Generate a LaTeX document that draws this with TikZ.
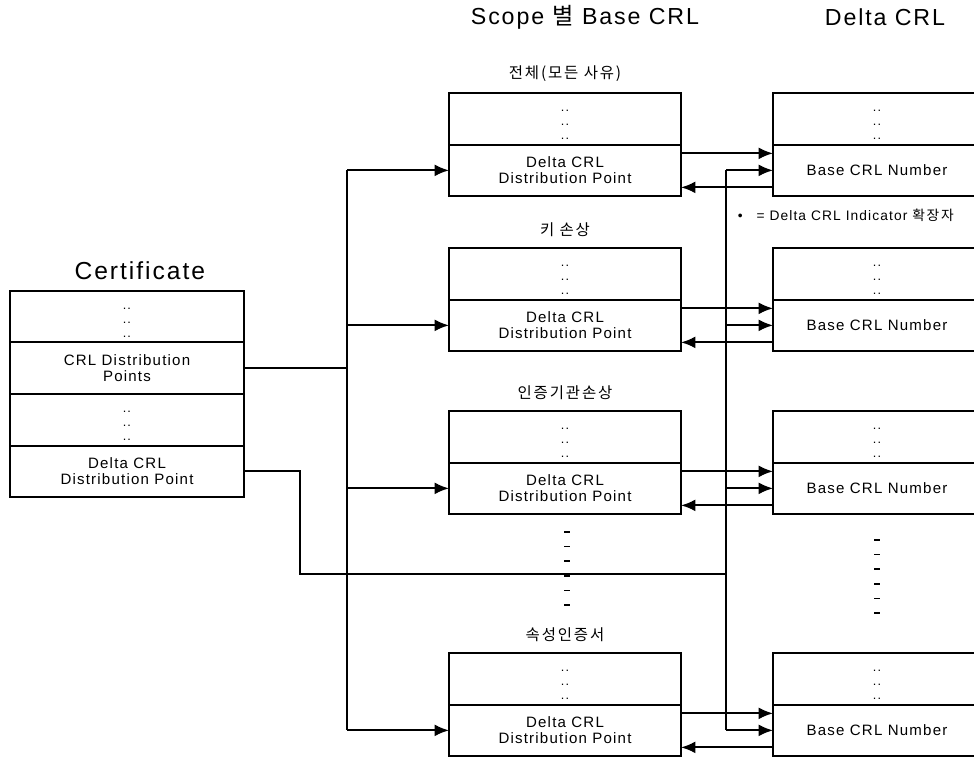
\documentclass[tikz,border=0pt]{standalone}
\usepackage{fontspec}
\setmainfont[LetterSpace=8]{Liberation Sans}
\newfontfamily\kr[LetterSpace=12]{Noto Sans CJK KR}
\usetikzlibrary{arrows.meta}
\usetikzlibrary{positioning}
\newcommand\fieldfont{\fontsize{10.7}{11.5}\selectfont}
\newcommand\dotfont{\fontsize{9}{9.96}\selectfont}
\tikzset{
    field/.style = {draw,line width=1.4pt,inner sep=0,outer sep=0,minimum height=1.29cm,align=center,font=\fieldfont},
    dotfield/.style = {label={[font=\dotfont,align=center,yshift=-0.15cm]center:..\\..\\..}},
    certfield/.style = {field,minimum width=5.85cm},
    basefield/.style = {field,minimum width=5.8cm},
    deltafield/.style = {field,minimum width=5.2cm},
    header/.style = {font=\fontsize{16.5}{18}\selectfont},
    reason/.style = {font=\kr\fontsize{11}{13}\selectfont},
    link/.style = {line width=1.4pt},
    feed/.style = {link,-{Latex[length=0.36cm,width=0.3cm]}}
}
\begin{document}
\begin{tikzpicture}[x=0.025cm,y=-0.025cm]
    \path[use as bounding box,clip] (0,0) rectangle (974,758);
    % Headers
    \node[header] (scopehead) at (585,17.5) {Scope {\kr 별} Base CRL};
    \node[header] (deltahead) at (885,17.5) {Delta CRL};
    % Certificate
    \node[certfield,dotfield] (c1) at (127,316.5) {};
    \node[certfield,below=0 of c1] (c2) {CRL Distribution\\Points};
    \node[certfield,dotfield,below=0 of c2] (c3) {};
    \node[certfield,below=0 of c3] (c4) {Delta CRL\\Distribution Point};
    \node[font=\fontsize{17.5}{20}\selectfont,above=0.15cm of c1,xshift=0.32cm] (certname) {Certificate};
    % Base CRLs and Delta CRLs
    \foreach \i/\y/\why in {1/118.75/전체(모든 사유),2/273.75/키 손상,3/436.75/인증기관손상,4/678.75/속성인증서} {
        \node[basefield,dotfield] (stop\i) at (565,\y) {};
        \node[basefield,below=0 of stop\i] (sdp\i) {Delta CRL\\Distribution Point};
        \node[reason,above=0.15cm of stop\i] (sname\i) {\why};
        \node[deltafield,dotfield] (dtop\i) at (877,\y) {};
        \node[deltafield,below=0 of dtop\i] (dnum\i) {Base CRL Number};
    }
    \node[anchor=west,font=\fontsize{9.8}{11}\selectfont] (note) at (733,215) {•\quad= Delta CRL Indicator {\kr 확장자}};
    % Omitted scopes
    \foreach \k in {0,...,5} {
        \draw[line width=1.2pt] (564,{532+14.6*\k}) -- (570,{532+14.6*\k});
        \draw[line width=1.2pt] (874,{540+14.6*\k}) -- (880,{540+14.6*\k});
    }
    % Bus lines
    \coordinate (lbus) at (347,0);
    \coordinate (rbus) at (726,0);
    \coordinate (jog) at (300,0);
    \coordinate (drop) at (0,574);
    \draw[link] (c2.east) -- (lbus |- c2.east);
    \draw[link] (lbus |- sdp1.west) -- (lbus |- sdp4.west);
    \draw[link] (rbus |- dnum1.west) -- (rbus |- dnum4.west);
    \draw[link] (c4.east) -| (jog |- drop) -- (rbus |- drop);
    % Pointers
    \foreach \i in {1,...,4} {
        \draw[feed] (lbus |- sdp\i.west) -- (sdp\i.west);
        \draw[feed] ([yshift=0.425cm]sdp\i.east) -- ([yshift=0.425cm]dnum\i.west);
        \draw[feed] (rbus |- dnum\i.west) -- (dnum\i.west);
        \draw[feed] ([yshift=-0.425cm]dnum\i.west) -- ([yshift=-0.425cm]sdp\i.east);
    }
\end{tikzpicture}
\end{document}
